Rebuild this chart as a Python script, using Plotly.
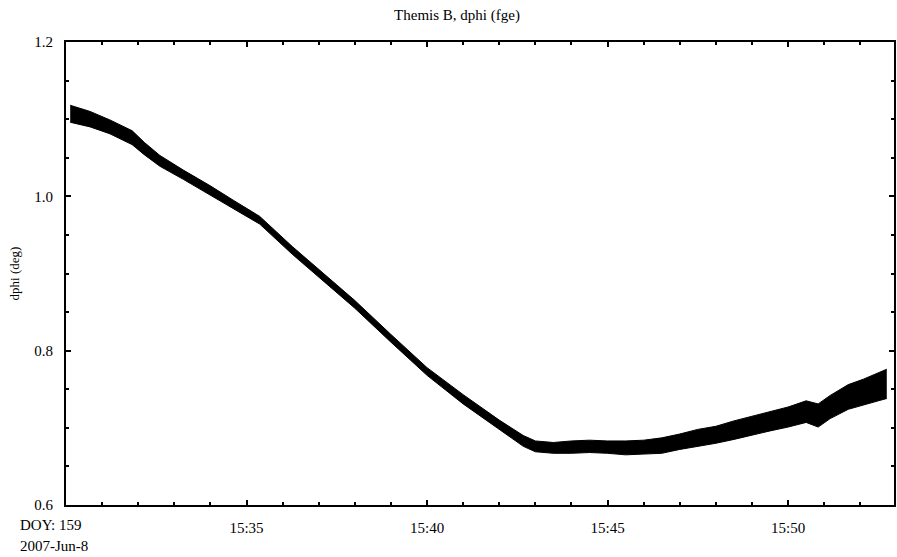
import plotly.graph_objects as go

# time (HH:MM:SS on 2007-06-08), centre value (deg), half band width (deg)
times = ["15:30:07", "15:30:40", "15:31:13", "15:31:50", "15:32:10", "15:32:36",
         "15:33:15", "15:33:59", "15:34:40", "15:35:22", "15:36:16", "15:37:13",
         "15:38:00", "15:39:00", "15:40:00", "15:41:00", "15:42:00", "15:42:40",
         "15:43:00", "15:43:30", "15:44:00", "15:44:30", "15:45:00", "15:45:30",
         "15:46:00", "15:46:30", "15:47:00", "15:47:30", "15:48:00", "15:48:30",
         "15:49:00", "15:49:30", "15:50:00", "15:50:30", "15:50:50", "15:51:10",
         "15:51:40", "15:52:05", "15:52:30", "15:52:44"]
center = [1.107, 1.100, 1.090, 1.076, 1.062, 1.046,
          1.028, 1.008, 0.989, 0.969, 0.930, 0.892,
          0.860, 0.816, 0.773, 0.737, 0.704, 0.683,
          0.676, 0.674, 0.675, 0.676, 0.675, 0.674,
          0.675, 0.677, 0.682, 0.687, 0.691, 0.697,
          0.703, 0.709, 0.714, 0.721, 0.716, 0.727,
          0.740, 0.746, 0.753, 0.757]
halfw = [0.011, 0.010, 0.009, 0.009, 0.008, 0.007,
         0.006, 0.006, 0.005, 0.005, 0.005, 0.005,
         0.005, 0.005, 0.005, 0.006, 0.006, 0.007,
         0.007, 0.007, 0.008, 0.008, 0.008, 0.009,
         0.009, 0.010, 0.010, 0.011, 0.011, 0.012,
         0.012, 0.013, 0.013, 0.014, 0.015, 0.015,
         0.016, 0.017, 0.018, 0.019]

x_vals = ["2007-06-08 " + t for t in times]
upper = [c + h for c, h in zip(center, halfw)]
lower = [c - h for c, h in zip(center, halfw)]

tick_times = ["15:35", "15:40", "15:45", "15:50"]
y_ticks = [0.6, 0.8, 1.0, 1.2]

FONT = "Liberation Serif, Times New Roman, serif"

fig = go.Figure()
fig.add_trace(go.Scatter(x=x_vals, y=lower, mode="lines",
                         line=dict(color="black", width=1), showlegend=False,
                         hoverinfo="skip"))
fig.add_trace(go.Scatter(x=x_vals, y=upper, mode="lines", fill="tonexty",
                         fillcolor="black", line=dict(color="black", width=1),
                         showlegend=False))

fig.update_layout(
    width=897, height=557,
    margin=dict(l=66, r=1, t=42, b=52),
    paper_bgcolor="white", plot_bgcolor="white",
    font=dict(family=FONT, size=15, color="black"),
    title=dict(text="Themis B, dphi (fge)", x=457 / 897, xanchor="center",
               y=1 - 15 / 557, yanchor="middle",
               font=dict(family=FONT, size=15)),
    xaxis=dict(
        type="date",
        range=["2007-06-08 15:30:00", "2007-06-08 15:52:56"],
        tickvals=["2007-06-08 " + t for t in tick_times],
        ticktext=tick_times,
        tickfont=dict(family=FONT, size=15),
        showline=True, linecolor="black", linewidth=2, mirror="ticks",
        ticks="inside", ticklen=5, tickwidth=1.5, tickcolor="black",
        minor=dict(dtick=60000, ticks="inside", ticklen=3, tickwidth=1.5,
                   tickcolor="black"),
        showgrid=False, zeroline=False, ticklabelstandoff=8,
    ),
    yaxis=dict(
        range=[0.6, 1.2],
        tickvals=y_ticks,
        ticktext=["%.1f" % v for v in y_ticks],
        tickfont=dict(family=FONT, size=15),
        showline=True, linecolor="black", linewidth=2, mirror="ticks",
        ticks="inside", ticklen=5, tickwidth=1.5, tickcolor="black",
        minor=dict(dtick=0.05, ticks="inside", ticklen=3, tickwidth=1.5,
                   tickcolor="black"),
        showgrid=False, zeroline=False, ticklabelstandoff=8,
        title=dict(text="dphi (deg)", font=dict(family=FONT, size=13),
                   standoff=12),
    ),
    annotations=[
        dict(text="DOY: 159", xref="paper", yref="paper",
             x=-48 / 830, y=-20 / 463, xanchor="left", yanchor="middle",
             showarrow=False, font=dict(family=FONT, size=15)),
        dict(text="2007-Jun-8", xref="paper", yref="paper",
             x=-48 / 830, y=-41 / 463, xanchor="left", yanchor="middle",
             showarrow=False, font=dict(family=FONT, size=15)),
    ],
)

fig.write_html("out.html")
